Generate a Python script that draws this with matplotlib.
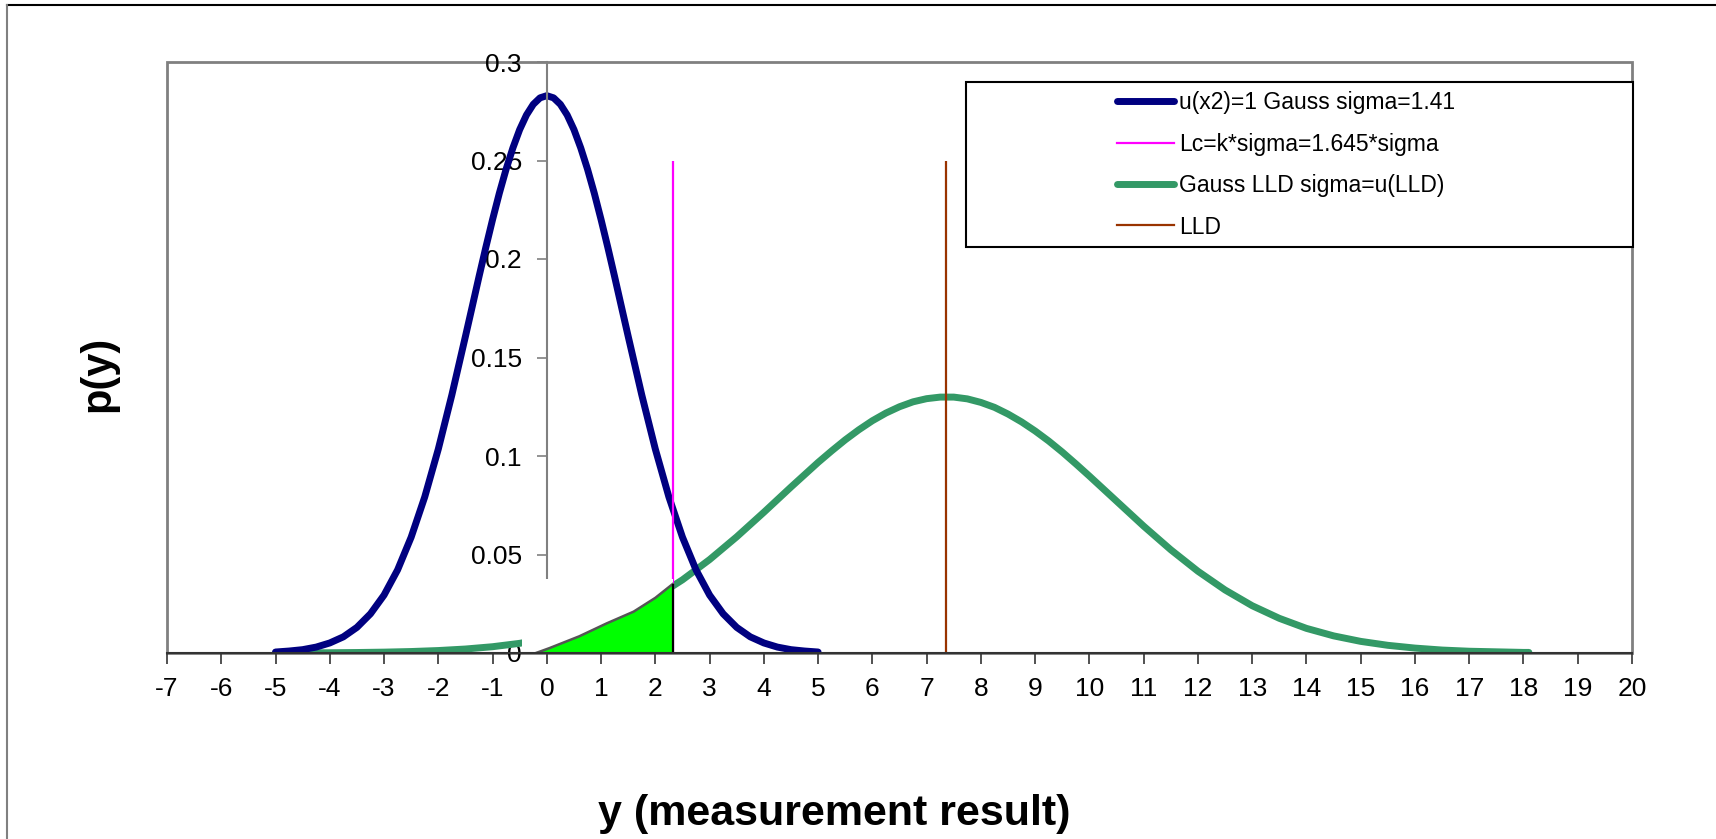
import matplotlib
matplotlib.use("Agg")
import matplotlib.pyplot as plt
from matplotlib.patches import Rectangle
from matplotlib.lines import Line2D

plt.rcParams['font.family'] = ['Liberation Sans', 'DejaVu Sans']
plt.rcParams['axes.unicode_minus'] = False

# Gauss curve of the blank, u(x2)=1, sigma=1.41
blank_x = [-5, -4.75, -4.5, -4.25, -4, -3.75, -3.5, -3.25, -3, -2.75, -2.5, -2.25,
           -2, -1.75, -1.5, -1.375, -1.25, -1.125, -1, -0.875, -0.75, -0.625,
           -0.5, -0.375, -0.25, -0.125, 0, 0.125, 0.25, 0.375, 0.5, 0.625, 0.75,
           0.875, 1, 1.125, 1.25, 1.375, 1.5, 1.75, 2, 2.25, 2.5, 2.75, 3, 3.25,
           3.5, 3.75, 4, 4.25, 4.5, 4.75, 5]
blank_p = [0.0005, 0.0010, 0.0017, 0.0030, 0.0051, 0.0082, 0.0130, 0.0199, 0.0294,
           0.0422, 0.0588, 0.0792, 0.1035, 0.1310, 0.1607, 0.1758, 0.1910, 0.2058,
           0.2200, 0.2334, 0.2456, 0.2564, 0.2657, 0.2731, 0.2785, 0.2818, 0.2829,
           0.2818, 0.2785, 0.2731, 0.2657, 0.2564, 0.2456, 0.2334, 0.2200, 0.2058,
           0.1910, 0.1758, 0.1607, 0.1310, 0.1035, 0.0792, 0.0588, 0.0422, 0.0294,
           0.0199, 0.0130, 0.0082, 0.0051, 0.0030, 0.0017, 0.0010, 0.0005]

# Gauss curve around LLD, sigma = u(LLD)
lld_x = [-5, -4.5, -4, -3.5, -3, -2.5, -2, -1.5, -1, -0.5, 0, 0.5, 1, 1.5, 2, 2.5,
         3, 3.5, 4, 4.5, 5, 5.25, 5.5, 5.75, 6, 6.25, 6.5, 6.75, 7, 7.25, 7.5,
         7.75, 8, 8.25, 8.5, 8.75, 9, 9.25, 9.5, 9.75, 10, 10.5, 11, 11.5, 12,
         12.5, 13, 13.5, 14, 14.5, 15, 15.5, 16, 16.5, 17, 17.5, 18, 18.1]
lld_p = [0.00004, 0.00007, 0.00014, 0.00025, 0.00044, 0.00075, 0.00125, 0.00202,
         0.00319, 0.00491, 0.00734, 0.01071, 0.01520, 0.02102, 0.02831, 0.03714,
         0.04742, 0.05898, 0.07142, 0.08424, 0.09675, 0.1026, 0.1082, 0.1133,
         0.1179, 0.1218, 0.1250, 0.1275, 0.1291, 0.1299, 0.1299, 0.1290, 0.1272,
         0.1247, 0.1213, 0.1173, 0.1127, 0.1076, 0.1020, 0.0960, 0.0898, 0.0771,
         0.0644, 0.0524, 0.0415, 0.0320, 0.0240, 0.0176, 0.0125, 0.0087, 0.0059,
         0.0039, 0.0025, 0.0015, 0.0009, 0.0006, 0.0003, 0.0003]

# vertical markers
lc_value = 2.32
lld_value = 7.36
marker_height = 0.25

# hand-drawn shaded area (beta risk) and the white patch under it
shade_x = [-0.2, 0.05, 0.6, 1.1, 1.6, 2.0, 2.32]
shade_p = [0.0, 0.0025, 0.0085, 0.015, 0.021, 0.028, 0.035]
patch_left, patch_top = -0.46, 0.0375

legend_labels = ['u(x2)=1 Gauss sigma=1.41', 'Lc=k*sigma=1.645*sigma',
                 'Gauss LLD sigma=u(LLD)', 'LLD']

x_ticks = list(range(-7, 21))
y_ticks = [0, 0.05, 0.1, 0.15, 0.2, 0.25, 0.3]
y_ticklabels = ['0', '0.05', '0.1', '0.15', '0.2', '0.25', '0.3']

W, H = 1716, 839
fig = plt.figure(figsize=(W / 100, H / 100), dpi=100)
ax = fig.add_axes([167 / W, 1 - 653 / H, (1632 - 167) / W, (653 - 62) / H])
ax.set_xlim(-7, 20)
ax.set_ylim(0, 0.3)

navy = '#000080'
green = '#339966'
magenta = '#FF00FF'
brown = '#993300'

ax.plot(lld_x, lld_p, color=green, lw=5, solid_capstyle='round',
        solid_joinstyle='round', zorder=2)
ax.plot(blank_x, blank_p, color=navy, lw=5, solid_capstyle='round',
        solid_joinstyle='round', zorder=2.2)
ax.vlines(lc_value, 0, marker_height, color=magenta, lw=1.6, zorder=2.4)
ax.vlines(lld_value, 0, marker_height, color=brown, lw=1.6, zorder=2.4)

# white patch covering the lower part of the y axis and the curve
ax.add_patch(Rectangle((patch_left, 0), lc_value - patch_left, patch_top,
                       facecolor='white', edgecolor='none', zorder=3))
ax.fill_between(shade_x, 0, shade_p, facecolor='#00FF00', edgecolor='none', zorder=4)
ax.plot(shade_x, shade_p, color='#555555', lw=1.8, zorder=4.2)
ax.vlines(shade_x[-1], 0, shade_p[-1], color='black', lw=1.6, zorder=4.2)

# axes styling, Excel-like
ax.spines['top'].set_visible(False)
ax.spines['right'].set_visible(False)
ax.spines['left'].set_position(('data', 0))
ax.spines['left'].set_color('#808080')
ax.spines['left'].set_linewidth(1.5)
ax.spines['bottom'].set_color('#333333')
ax.spines['bottom'].set_linewidth(1.5)
ax.spines['bottom'].set_zorder(5)
ax.add_patch(Rectangle((0, 0), 1, 1, transform=ax.transAxes, fill=False,
                       edgecolor='#808080', lw=2, clip_on=False, zorder=0.5))

ax.set_xticks(x_ticks)
ax.set_yticks(y_ticks)
ax.set_yticklabels(y_ticklabels)
ax.tick_params(axis='x', direction='out', length=8, width=1.2, color='#333333',
               labelsize=19, pad=9)
ax.tick_params(axis='y', direction='out', length=7, width=1.2, color='#808080',
               labelsize=19, pad=11)

fig.text(834 / W, 1 - 814 / H, 'y (measurement result)', fontsize=31,
         fontweight='bold', ha='center', va='center')
fig.text(98 / W, 1 - 374 / H, 'p(y)', fontsize=30, fontweight='bold',
         rotation=90, ha='center', va='center')

# legend box
fig.add_artist(Rectangle((966 / W, 1 - 247 / H), 667 / W, 165 / H,
                         transform=fig.transFigure, facecolor='white',
                         edgecolor='black', lw=1.5, zorder=4))
handles = [Line2D([], [], color=navy, lw=5, solid_capstyle='round'),
           Line2D([], [], color=magenta, lw=1.6),
           Line2D([], [], color=green, lw=5, solid_capstyle='round'),
           Line2D([], [], color=brown, lw=1.6)]
fig.legend(handles, legend_labels, loc='center',
           bbox_to_anchor=(1286 / W, 1 - 165 / H), frameon=False,
           fontsize=16.5, handlelength=2.5, handletextpad=0.2, labelspacing=0.8)

# outer chart border
fig.add_artist(Line2D([7 / W, 1], [1 - 5 / H, 1 - 5 / H], color='black', lw=1.5))
fig.add_artist(Line2D([7 / W, 7 / W], [0, 1 - 5 / H], color='#808080', lw=1.5))

fig.savefig('out.png', dpi=100)
